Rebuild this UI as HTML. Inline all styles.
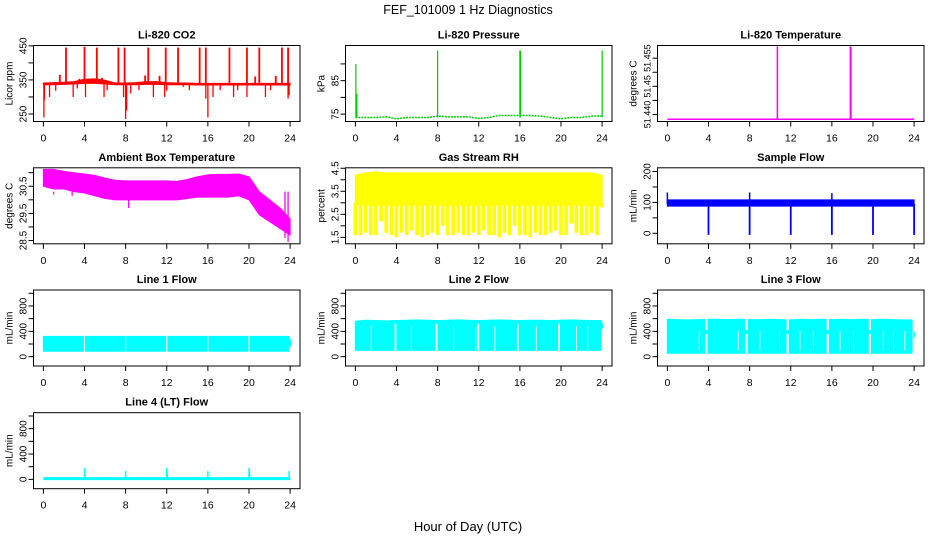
<!DOCTYPE html>
<html><head><meta charset="utf-8"><style>
html,body{margin:0;padding:0;background:#fff;}
svg{display:block;font-family:"Liberation Sans",Arial,sans-serif;}
</style></head><body>
<svg id="chart" width="936" height="540" viewBox="0 0 936 540" xmlns="http://www.w3.org/2000/svg">
<text x="468" y="14" text-anchor="middle" font-size="12.5">FEF_101009  1 Hz Diagnostics</text>
<text x="468" y="531" text-anchor="middle" font-size="13">Hour of Day (UTC)</text>
</svg>
<script>
// ---- shared axis data ----
const xTicks = [0,4,8,12,16,20,24];
const hours = [0,1,2,3,4,5,6,7,8,9,10,11,12,13,14,15,16,17,18,19,20,21,22,23,24];
// CO2
const co2Hi = [341,342,343,345,352,353,349,341,341,342,345,345,342,341,341,340,340,340,340,340,340,340,340,340,340];
const co2Lo = [336,336,337,338,340,340,338,336,336,336,337,337,336,336,336,335,335,335,335,335,335,335,335,335,335];
const co2SpikeT = [2.2,4.0,5.2,7.3,7.9,10.2,11.9,13.1,15.2,15.8,18.1,19.8,21.0,23.2,23.8,1.6,3.5,5.7,9.9,11.3,20.6,22.6];
const co2SpikeV = [445,447,445,445,445,445,445,445,445,445,445,445,445,445,445,365,353,356,363,362,360,362];
const co2DipT = [0.05,0.1,0.6,1.2,2.9,3.3,4.1,5.9,6.2,7.8,8.0,8.1,8.5,9.3,10.7,11.8,12.0,13.6,14.2,15.8,16.0,16.5,17.2,18.5,18.9,19.8,21.6,22.1,23.8,23.9];
const co2DipV = [240,290,300,318,300,325,300,300,320,300,235,260,310,320,300,300,318,330,320,295,240,300,320,300,320,300,300,320,295,305];
const co2YTicks = [250,300,350,400,450];
const co2YLabels = ["250","","350","","450"];
// Pressure
const presBase = [74,74,74,74.2,73.6,74,74,74,74.4,74.2,74.2,74.2,73.7,74,74.6,74.6,74.6,74.6,74.4,74,73.6,74,74,74.4,74.4];
const presSpikeT = [0.05,0.15,8,16,16.05,24];
const presSpikeV = [90,81,94,94,94,94];
const presYTicks = [75,80,85,90];
const presYLabels = ["75","","85",""];
// Li-820 Temperature
const tempBase = 51.4383;
const tempSpikeT = [10.7,17.8,17.85];
const tempSpikeV = [51.4642,51.4642,51.4640];
const tempYTicks = [51.440,51.445,51.450,51.455,51.460];
const tempYLabels = ["51.440","","51.45","","51.455"];
// Ambient box temperature
const ambHi = [31.12,31.12,31.05,31.0,30.95,30.9,30.8,30.72,30.7,30.7,30.7,30.7,30.7,30.68,30.75,30.85,30.92,30.94,30.94,30.95,30.85,30.3,30.0,29.7,29.3];
const ambLo = [30.5,30.4,30.4,30.3,30.25,30.15,30.05,30.0,30.0,30.0,30.0,30.0,30.0,30.0,30.05,30.1,30.1,30.1,30.1,30.15,30.0,29.45,29.2,28.95,28.7];
const ambDipT = [1,2.8,8.3,19.9,23.5,23.8];
const ambDipV = [30.2,30.15,29.7,30.0,28.6,28.45];
const ambYTicks = [28.5,29,29.5,30,30.5,31];
const ambYLabels = ["28.5","","29.5","","30.5",""];
// Gas stream RH
const rhHi = [4.2,4.3,4.35,4.3,4.3,4.3,4.3,4.3,4.3,4.3,4.3,4.3,4.3,4.3,4.3,4.3,4.3,4.3,4.3,4.3,4.3,4.3,4.3,4.3,4.2];
const rhCore = 2.9;
const rhDip = [1.6,1.6,1.7,1.6,1.6,2.2,1.7,1.6,1.5,1.7,1.6,1.8,1.6,1.5,1.6,1.7,1.6,2.0,1.6,1.6,1.7,1.6,1.6,1.7,1.6,1.8,1.6,1.6,1.5,1.7,1.6,2.0,1.6,1.6,1.5,1.7,1.6,1.6,1.7,1.8,1.6,1.6,2.1,1.7,1.6,1.6,1.7,1.6,2.8];
const rhYTicks = [1.5,2,2.5,3,3.5,4,4.5];
const rhYLabels = ["1.5","","2.5","","3.5","","4.5"];
// Sample flow
const sfLo = 88, sfHi = 108;
const sfDipT = [4,8,12,16,20,24];
const sfDipV = [-5,-5,-5,-5,-5,-5];
const sfSpikeT = [0,8,16];
const sfSpikeV = [132,132,130];
const sfYTicks = [0,50,100,150,200];
const sfYLabels = ["0","","100","","200"];
// Line flows
const flowYTicks = [0,200,400,600,800,1000];
const flowYLabels = ["0","","400","","800",""];
const l1Lo = 85, l1Hi = 320;
const l1GapT = [4,8,12,16,20];
const l2Lo = 100;
const l2Hi = [560,575,570,565,570,575,580,575,570,575,580,575,570,575,580,575,570,575,575,570,575,580,575,570,540];
const l2GapT = [3.9,7.9,11.96,15.8,19.8];
const l2ThinT = [1.54,5.44,9.56,11.7,13.56,17.6,21.5,22.6];
const l3Lo = 55;
const l3Hi = [590,585,580,585,590,590,585,590,585,585,590,585,580,590,585,590,585,590,585,590,585,590,585,580,400];
const l3BigT = [3.8,7.7,11.7,15.6,19.7];
const l3ThinT = [3.1,6.9,9.0,10.9,12.9,14.2,16.8,18.1,21.0,22.0,23.1];
const l4Base = 12;
const l4SpikeT = [4,4.05,8,12,12.05,16,20,20.05,23.9];
const l4SpikeV = [180,100,130,180,100,130,180,100,130];

// ---- layout ----
const NS = "http://www.w3.org/2000/svg";
const svg = document.getElementById('chart');
const colX = [33.5,345.5,657.5], rowY = [45.5,167.8,290,412.7];
const BW = 266.5, BH = 76;
function mk(tag, attrs, parent){const e=document.createElementNS(NS,tag);for(const k in attrs)e.setAttribute(k,attrs[k]);(parent||svg).appendChild(e);return e;}

function panel(col,row,title,ytitle,ylim,yTicks,yLabels,name,yfs){
  const bx=colX[col], by=rowY[row];
  const g=mk('g',{});
  
  
  const xs=t=>bx+(t+0.96)/25.92*BW;
  const ys=v=>by+BH-(v-ylim[0])/(ylim[1]-ylim[0])*BH;
  const cid='clip'+col+row;
  const cp=mk('clipPath',{id:cid},g); mk('rect',{x:bx,y:by,width:BW,height:BH},cp);
  const plot=mk('g',{'clip-path':'url(#'+cid+')'},g);
  
  
  const box=mk('rect',{x:bx,y:by,width:BW,height:BH,fill:'none',stroke:'#000','stroke-width':1},g);
  
  
  const tt=mk('text',{x:bx+BW/2,y:by-7,'text-anchor':'middle','font-size':11,'font-weight':'bold'},g);
  tt.textContent=title;
  
  
  const yt=mk('text',{transform:'translate('+(bx-21)+','+(by+BH/2)+') rotate(-90)','text-anchor':'middle','font-size':10},g);
  yt.textContent=ytitle;
  
  
  xTicks.forEach(t=>{
    const x=xs(t);
    mk('line',{x1:x,y1:by+BH,x2:x,y2:by+BH+5,stroke:'#000'},g);
    const l=mk('text',{x:x,y:by+BH+20,'text-anchor':'middle','font-size':10.5},g);
    l.textContent=t;
    
    
  });
  yTicks.forEach((v,i)=>{
    const y=ys(v);
    mk('line',{x1:bx-5,y1:y,x2:bx,y2:y,stroke:'#000'},g);
    if(yLabels[i]){
      const l=mk('text',{transform:'translate('+(bx-7)+','+y+') rotate(-90)','text-anchor':'middle','font-size':yfs||10},g);
      l.textContent=yLabels[i];
      
      
    }
  });
  return {xs,ys,plot};
}
function env(p,ts,lo,hi,color){
  let pts=[];
  ts.forEach((t,i)=>pts.push(p.xs(t)+','+p.ys(Array.isArray(hi)?hi[i]:hi)));
  for(let i=ts.length-1;i>=0;i--)pts.push(p.xs(ts[i])+','+p.ys(Array.isArray(lo)?lo[i]:lo));
  mk('polygon',{points:pts.join(' '),fill:color,stroke:color,'stroke-width':1},p.plot);
}
function vlines(p,ts,vs,base,color,w){
  ts.forEach((t,i)=>{const x=p.xs(t);mk('line',{x1:x,y1:p.ys(base),x2:x,y2:p.ys(vs[i]),stroke:color,'stroke-width':w||1.5},p.plot);});
}
function polyline(p,ts,vs,color,w,dash){
  const a={points:ts.map((t,i)=>p.xs(t)+','+p.ys(vs[i])).join(' '),fill:'none',stroke:color,'stroke-width':w||1};
  if(dash)a['stroke-dasharray']=dash;
  mk('polyline',a,p.plot);
}
function whiteStrip(p,t,v0,v1,w){
  const x=p.xs(t);mk('rect',{x:x-w/2,y:p.ys(v1),width:w,height:p.ys(v0)-p.ys(v1),fill:'#fff'},p.plot);
}

// CO2
let p=panel(0,0,'Li-820 CO2','Licor ppm',[228,451],co2YTicks,co2YLabels,'co2');
env(p,hours,co2Lo,co2Hi,'#ff0000');
vlines(p,co2SpikeT,co2SpikeV,338,'#ff0000',1.8);
vlines(p,co2DipT,co2DipV,338,'#ff0000',1.3);
// Pressure
p=panel(1,0,'Li-820 Pressure','kPa',[72.8,95.5],presYTicks,presYLabels,'pressure');
polyline(p,hours,presBase,'#00cc00',1.5,'2,1');
vlines(p,presSpikeT,presSpikeV,74,'#00cc00',1.2);
// Temperature
p=panel(2,0,'Li-820 Temperature','degrees C',[51.4375,51.4645],tempYTicks,tempYLabels,'li820-temp',9);
polyline(p,[0,24],[tempBase,tempBase],'#ff00ff',1.5);
vlines(p,tempSpikeT,tempSpikeV,tempBase,'#ff00ff',1.5);
// Ambient
p=panel(0,1,'Ambient Box Temperature','degrees C',[28.38,31.18],ambYTicks,ambYLabels,'ambient-temp');
env(p,hours,ambLo,ambHi,'#ff00ff');
vlines(p,ambDipT,ambDipV,30.3,'#ff00ff',1.3);
// RH
p=panel(1,1,'Gas Stream RH','percent',[1.22,4.52],rhYTicks,rhYLabels,'rh');
env(p,hours,rhCore,rhHi,'#ffff00');
rhDip.forEach((v,i)=>{const t=i*0.5;const x=p.xs(t);mk('rect',{x:x-1.8,y:p.ys(rhCore+0.1),width:3.6,height:p.ys(v)-p.ys(rhCore+0.1),fill:'#ffff00'},p.plot);});
// Sample flow
p=panel(2,1,'Sample Flow','mL/min',[-34,212],sfYTicks,sfYLabels,'sample-flow');
env(p,[0,24],sfLo,sfHi,'#0000ff');
vlines(p,sfDipT,sfDipV,95,'#0000ff',1.8);
vlines(p,sfSpikeT,sfSpikeV,95,'#0000ff',1.5);
// Line 1
p=panel(0,2,'Line 1 Flow','mL/min',[-147,1052],flowYTicks,flowYLabels,'line1-flow');
env(p,[0,23.9],l1Lo,l1Hi,'#00ffff');
vlines(p,[24],[280],160,'#00ffff',1.5);
l1GapT.forEach(t=>whiteStrip(p,t,l1Lo-10,l1Hi+10,1.2));
// Line 2
p=panel(1,2,'Line 2 Flow','mL/min',[-147,1052],flowYTicks,flowYLabels,'line2-flow');
env(p,hours.slice(0,24).concat([23.9]),l2Lo,l2Hi.slice(0,24).concat([l2Hi[23]]),'#00ffff');
vlines(p,[24],[540],440,'#00ffff',1.5);
l2GapT.forEach(t=>whiteStrip(p,t,l2Lo-10,520,1.8));
l2ThinT.forEach(t=>whiteStrip(p,t,l2Lo-10,480,0.9));
// Line 3
p=panel(2,2,'Line 3 Flow','mL/min',[-147,1052],flowYTicks,flowYLabels,'line3-flow');
env(p,hours.slice(0,24).concat([23.8]),l3Lo,l3Hi.slice(0,24).concat([l3Hi[23]]),'#00ffff');
vlines(p,[24],[400],300,'#00ffff',1.5);
l3BigT.forEach(t=>{whiteStrip(p,t,l3Lo-30,360,2.2);whiteStrip(p,t,420,l3Hi[0]+20,2.2);});
l3ThinT.forEach(t=>whiteStrip(p,t,100,400,0.9));
// Line 4
p=panel(0,3,'Line 4 (LT) Flow','mL/min',[-147,1052],flowYTicks,flowYLabels,'line4-flow');
polyline(p,[0,24],[l4Base,l4Base],'#00ffff',3);
vlines(p,l4SpikeT,l4SpikeV,l4Base,'#00ffff',1.5);
</script>
</body></html>
